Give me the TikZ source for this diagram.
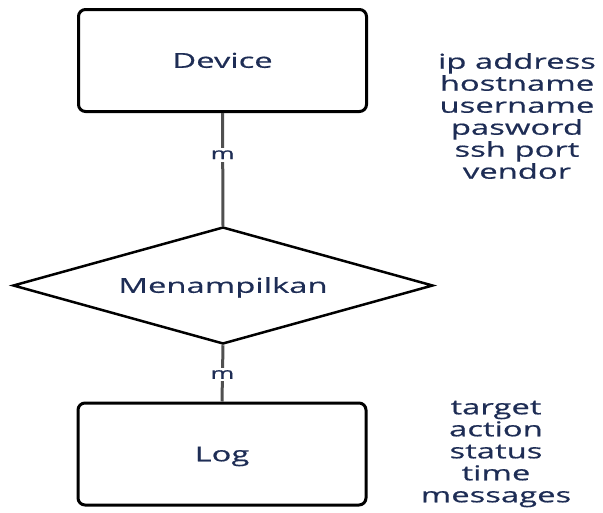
\documentclass[tikz,border=0pt]{standalone}
\usepackage{fontspec}
\usetikzlibrary{shapes.geometric}
\newfontfamily\wideos[FakeStretch=1.6,FakeBold=0.6]{Open Sans}
\definecolor{txt}{RGB}{30,45,85}
\definecolor{conn}{RGB}{80,80,80}
\begin{document}
\begin{tikzpicture}[x=1pt,y=-1pt,
  entity/.style={draw=black, line width=3pt, rounded corners=7pt, minimum width=288pt, minimum height=102pt, inner sep=0pt, text height=14.6pt, text depth=0pt, font=\wideos\fontsize{20.5}{22}\selectfont, text=txt},
  relation/.style={diamond, draw=black, line width=2.5pt, minimum width=420pt, minimum height=117pt, aspect=3.59, inner sep=0pt, text height=14.6pt, text depth=0pt, font=\wideos\fontsize{20.5}{22}\selectfont, text=txt},
  attrs/.style={align=center, inner sep=0pt, font=\wideos\fontsize{20.5}{22}\selectfont, text=txt},
  connline/.style={draw=conn, line width=3pt},
  card/.style={fill=white, inner sep=2.5pt, font=\wideos\fontsize{16}{18}\selectfont, text=txt}]
\useasboundingbox (0,0) rectangle (603,512);
\node[entity] (dev) at (222.5,60.5) {Device};
\node[relation] (rel) at (223,285.5) {Menampilkan};
\node[entity] (log) at (222,454) {Log};
\draw[connline] (dev.south) -- node[card, pos=0.37] {m} (rel.north);
\draw[connline] (rel.south) -- node[card, pos=0.52] {m} (log.north);
\node[attrs] (devattr) at (517,116) {ip address\\hostname\\username\\pasword\\ssh port\\vendor};
\node[attrs] (logattr) at (496,454) {target\\action\\status\\time\\messages};
\end{tikzpicture}
\end{document}
